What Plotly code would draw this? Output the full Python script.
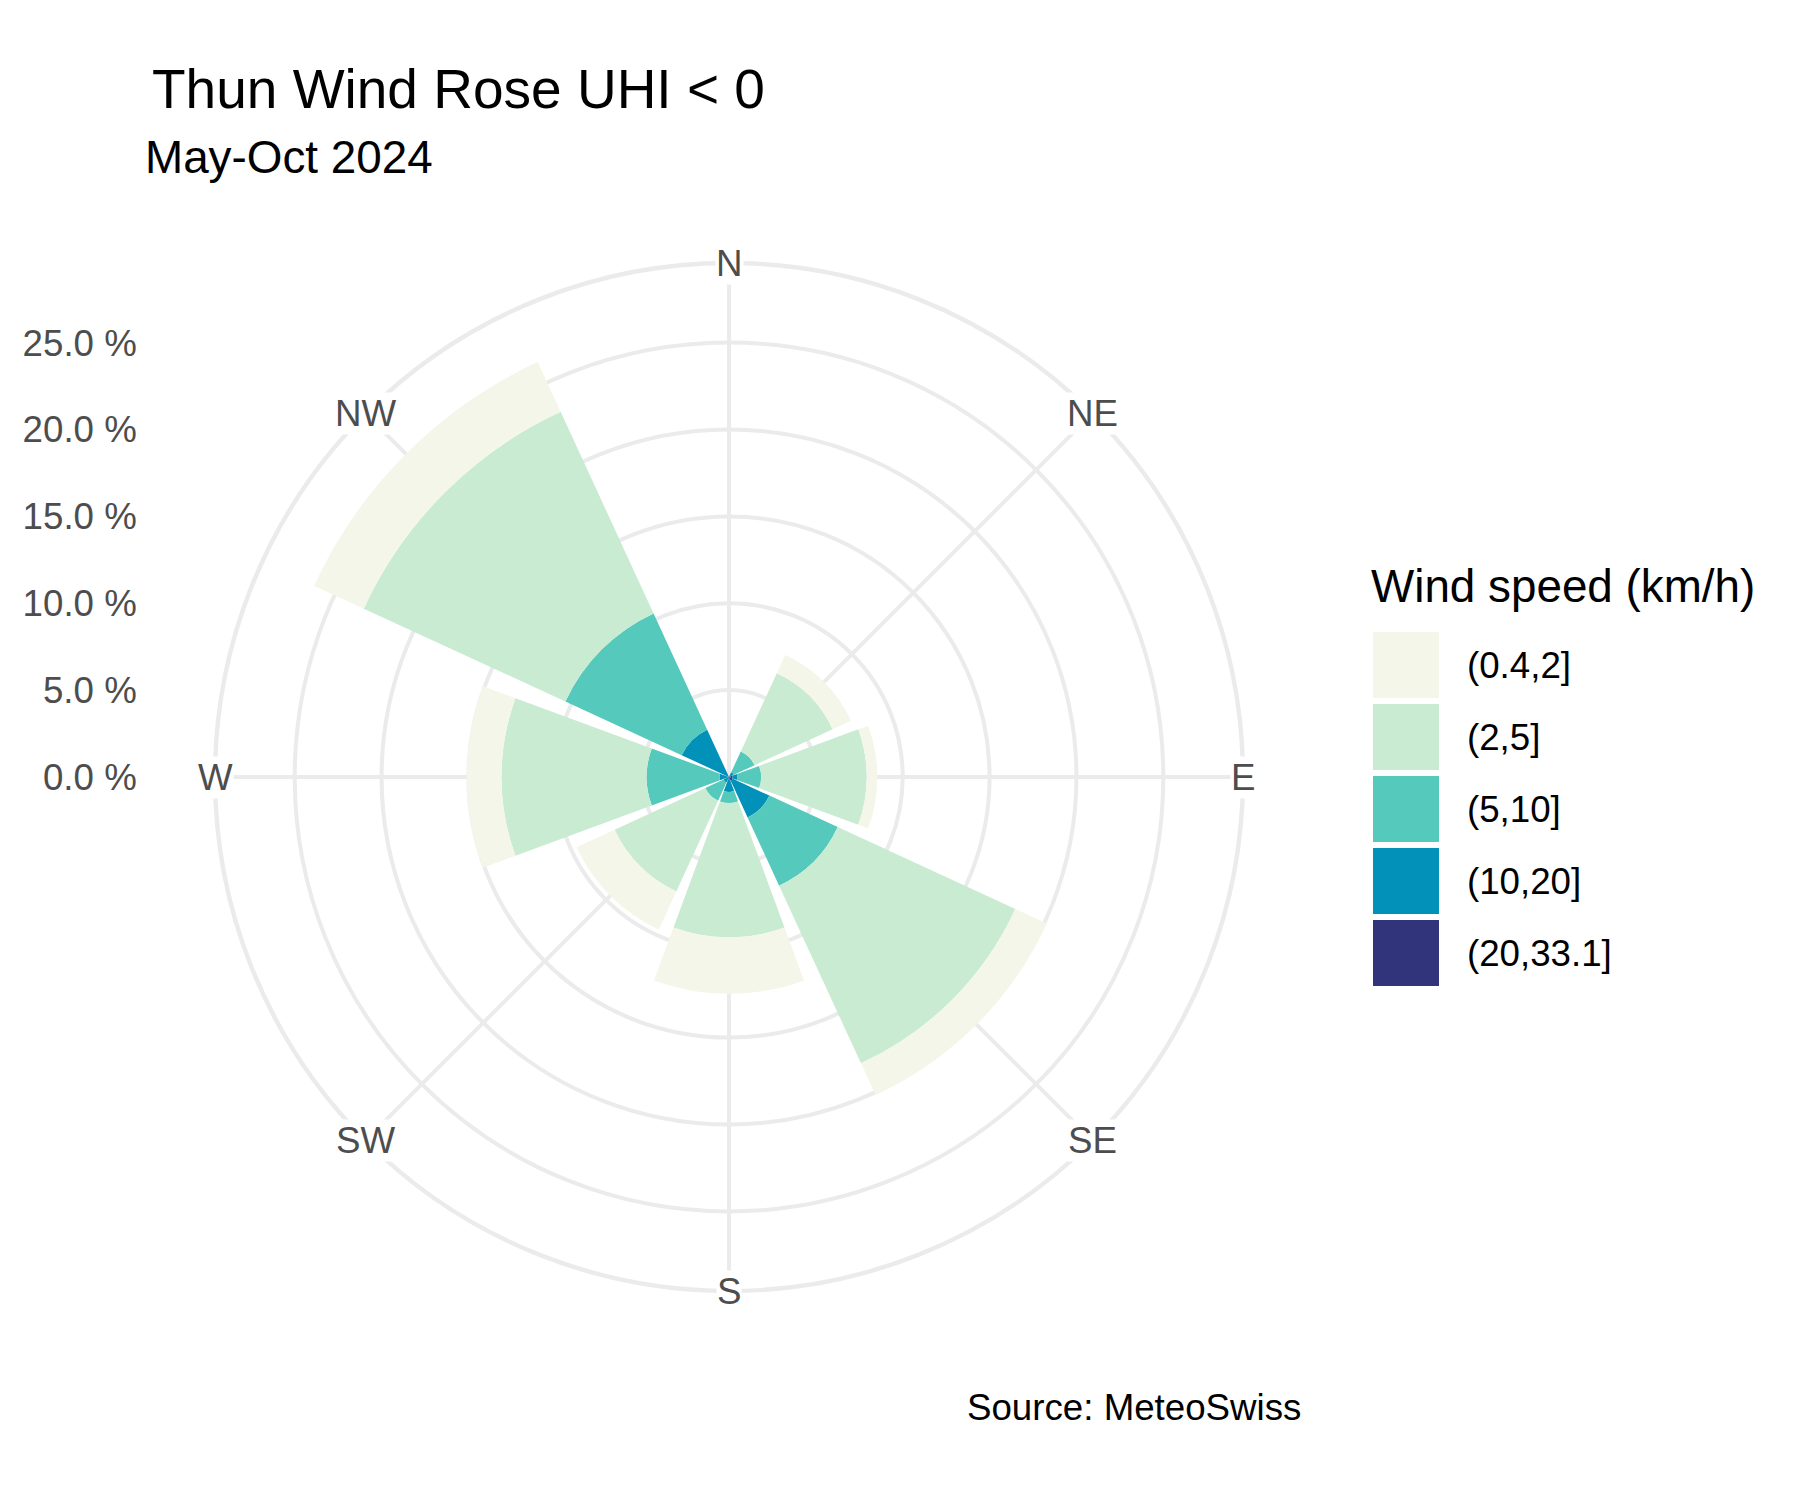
import math
import plotly.graph_objects as go

# ---------------- data ----------------
DIRS = ["N", "NE", "E", "SE", "S", "SW", "W", "NW"]
DIR_DEG = [0, 45, 90, 135, 180, 225, 270, 315]

SPEED_BINS = ["(0.4,2]", "(2,5]", "(5,10]", "(10,20]", "(20,33.1]"]
BIN_COLORS = ["#F4F6EA", "#C8EBD2", "#56C9BD", "#0291B9", "#31347A"]

# frequency (%) per direction for each speed bin
PCT_0_4_2   = [0, 1.17, 0.61, 2.00, 3.25, 2.41, 2.00, 3.15]
PCT_2_5     = [0, 4.95, 6.08, 11.26, 7.73, 5.75, 8.36, 12.78]
PCT_5_10    = [0, 1.32, 1.37, 4.33, 0.64, 1.15, 4.19, 7.37]
PCT_10_20   = [0, 0.25, 0.28, 2.31, 0.71, 0.30, 0.45, 2.95]
PCT_20_33   = [0, 0.05, 0.20, 0.25, 0.15, 0.05, 0.10, 0.05]

R_TICKS = [0, 5, 10, 15, 20, 25]
R_TICK_TEXT = ["0.0 %", "5.0 %", "10.0 %", "15.0 %", "20.0 %", "25.0 %"]

TITLE = "Thun Wind Rose UHI < 0"
SUBTITLE = "May-Oct 2024"
LEGEND_TITLE = "Wind speed (km/h)"
CAPTION = "Source: MeteoSwiss"

# ---------------- figure ----------------
W, H = 1800, 1500
FONT = "Liberation Sans, Arial, sans-serif"
GRID = "#EBEBEB"
AXTXT = "#4D4D4D"

totals = [a + b + c + d + e for a, b, c, d, e in zip(PCT_0_4_2, PCT_2_5, PCT_5_10, PCT_10_20, PCT_20_33)]
R_OUTER = max(totals) * 0.45 / 0.4

# polar panel geometry (pixels)
cx, cy, rad = 729, 777, 514
xdom = [(cx - rad) / W, (cx + rad) / W]
ydom = [(H - (cy + rad)) / H, (H - (cy - rad)) / H]

fig = go.Figure()

# stacked from the centre outwards: fastest bin innermost
series = [PCT_20_33, PCT_10_20, PCT_5_10, PCT_2_5, PCT_0_4_2]
for vals, name, col in zip(series, SPEED_BINS[::-1], BIN_COLORS[::-1]):
    fig.add_trace(go.Barpolar(
        r=vals, theta=DIR_DEG, width=[40.5] * len(DIR_DEG), name=name,
        marker=dict(color=col, line=dict(width=0)),
        showlegend=False, subplot="polar",
    ))

# dummy cartesian trace: carries an overlay frame matching the polar panel
fig.add_trace(go.Scatter(
    x=[0], y=[0], mode="markers", marker=dict(opacity=0),
    showlegend=False, hoverinfo="skip", xaxis="x", yaxis="y",
))

fig.update_layout(
    width=W, height=H,
    margin=dict(l=0, r=0, t=0, b=0),
    paper_bgcolor="white", plot_bgcolor="rgba(0,0,0,0)",
    font=dict(family=FONT, color="black"),
    showlegend=False,
    polar=dict(
        domain=dict(x=xdom, y=ydom),
        bgcolor="white",
        barmode="stack",
        radialaxis=dict(
            range=[0, R_OUTER], tickvals=R_TICKS[1:], showticklabels=False,
            ticks="", showline=False, gridcolor=GRID, gridwidth=4.4,
        ),
        angularaxis=dict(
            direction="clockwise", rotation=90,
            tickmode="array", tickvals=DIR_DEG, showticklabels=False,
            ticks="", showline=True, linecolor=GRID, linewidth=4.4,
            gridcolor=GRID, gridwidth=4.4,
        ),
    ),
    xaxis=dict(domain=xdom, range=[-R_OUTER, R_OUTER], visible=False),
    yaxis=dict(
        domain=ydom, range=[-R_OUTER, R_OUTER], anchor="free", position=0.076,
        tickmode="array", tickvals=R_TICKS, ticktext=R_TICK_TEXT,
        tickfont=dict(family=FONT, size=36.7, color=AXTXT),
        showgrid=False, zeroline=False, showline=False, ticks="",
    ),
)

ann = []
# direction labels centred on the outer circle
for d, deg in zip(DIRS, DIR_DEG):
    ann.append(dict(text=d, x=R_OUTER * math.sin(math.radians(deg)),
                    y=R_OUTER * math.cos(math.radians(deg)),
                    xref="x", yref="y", xanchor="center", yanchor="middle",
                    yshift=0, showarrow=False, bgcolor="white", borderpad=0,
                    font=dict(family=FONT, size=36.7, color=AXTXT)))

ann.append(dict(text=TITLE, x=150 / W, y=1 - 89 / H, xref="paper", yref="paper",
                xanchor="left", yanchor="middle", showarrow=False,
                font=dict(family=FONT, size=55, color="black")))
ann.append(dict(text=SUBTITLE, x=143 / W, y=1 - 157 / H, xref="paper", yref="paper",
                xanchor="left", yanchor="middle", showarrow=False,
                font=dict(family=FONT, size=45.8, color="black")))
ann.append(dict(text=LEGEND_TITLE, x=1369 / W, y=1 - 586 / H, xref="paper", yref="paper",
                xanchor="left", yanchor="middle", showarrow=False,
                font=dict(family=FONT, size=45.8, color="black")))
ann.append(dict(text=CAPTION, x=1303 / W, y=1 - 1407 / H, xref="paper", yref="paper",
                xanchor="right", yanchor="middle", showarrow=False,
                font=dict(family=FONT, size=36.7, color="black")))

shapes = []
key_x0, key_size, key_pitch, key_top = 1373, 66, 72, 632
for i, (lab, col) in enumerate(zip(SPEED_BINS, BIN_COLORS)):
    y0 = key_top + i * key_pitch
    shapes.append(dict(type="rect", xref="paper", yref="paper",
                       x0=key_x0 / W, x1=(key_x0 + key_size) / W,
                       y0=1 - (y0 + key_size) / H, y1=1 - y0 / H,
                       fillcolor=col, line=dict(width=0), layer="above"))
    ann.append(dict(text=lab, x=1465 / W, y=1 - (y0 + key_size / 2) / H,
                    xref="paper", yref="paper", xanchor="left", yanchor="middle",
                    showarrow=False, font=dict(family=FONT, size=36.7, color="black")))

fig.update_layout(annotations=ann, shapes=shapes)
fig.write_html("out.html")
